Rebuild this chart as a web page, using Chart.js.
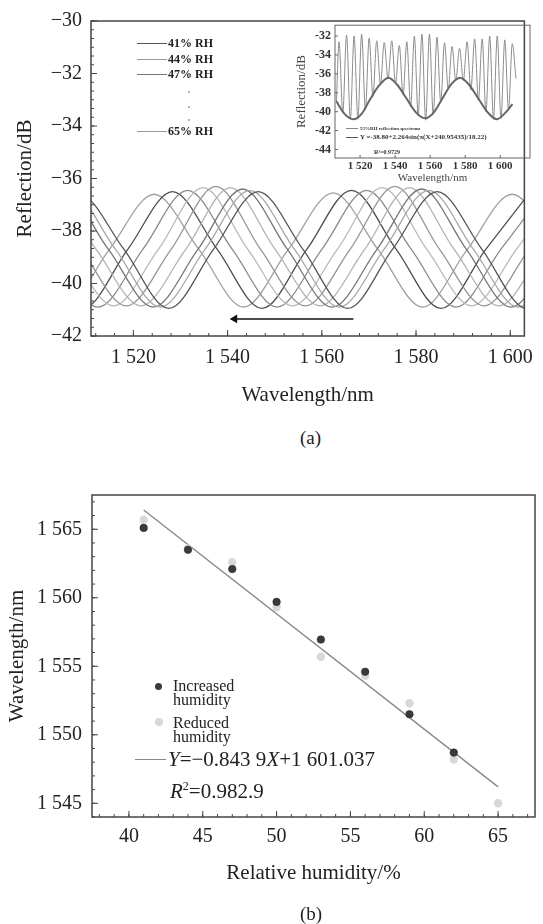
<!DOCTYPE html>
<html>
<head>
<meta charset="utf-8">
<script src="https://cdn.jsdelivr.net/npm/chart.js@4.4.1/dist/chart.umd.min.js"></script>
<style>
  body { margin: 0; width: 543px; height: 924px; position: relative; background: #fff; overflow: hidden;
         font-family: "Liberation Serif", "Times New Roman", serif; color: #222; }
  canvas, .t, .ln, .dot { position: absolute; }
  .t { white-space: nowrap; line-height: 1; transform: translateY(-50%); }
  .ln { height: 0; border-top: 1.2px solid #777; }
  .dot { border-radius: 50%; }
  .leg { font-size: 12px; font-weight: bold; }
  .ins { font-weight: bold; color: #333; }
  .hb { font-size: 16px; line-height: 14px; }
  .eq { font-size: 21px; }
</style>
</head>
<body>
<canvas id="chartA" width="543" height="420" style="left:0;top:0"></canvas>
<canvas id="inset" width="250" height="172" style="left:290px;top:14px"></canvas>
<canvas id="chartB" width="543" height="454" style="left:0;top:470px"></canvas>

<!-- legend of (a) -->
<div class="ln" style="left:137px;top:43px;width:30px;border-color:#555"></div>
<div class="t leg" style="left:168px;top:43px">41% RH</div>
<div class="ln" style="left:137px;top:59px;width:30px;border-color:#9a9a9a"></div>
<div class="t leg" style="left:168px;top:59px">44% RH</div>
<div class="ln" style="left:137px;top:74px;width:30px;border-color:#777"></div>
<div class="t leg" style="left:168px;top:74px">47% RH</div>
<div class="dot" style="left:188px;top:91px;width:2px;height:2px;background:#999"></div>
<div class="dot" style="left:188px;top:106px;width:2px;height:2px;background:#999"></div>
<div class="dot" style="left:188px;top:119px;width:2px;height:2px;background:#999"></div>
<div class="ln" style="left:137px;top:131px;width:30px;border-color:#999"></div>
<div class="t leg" style="left:168px;top:131px">65% RH</div>

<!-- legend of inset -->
<div class="ln" style="left:346px;top:128px;width:12px;border-color:#888"></div>
<div class="t ins" style="left:360px;top:128px;font-size:5px">55%RH reflection spectrum</div>
<div class="ln" style="left:346px;top:137px;width:12px;border-color:#555"></div>
<div class="t ins" style="left:360px;top:137px;font-size:7px">Y =-38.80+2.264sin(π(X+240.95435)/18.22)</div>
<div class="t ins" style="left:374px;top:152px;font-size:6px">R²=0.9729</div>

<div class="t" style="left:300px;top:437px;font-size:19px">(a)</div>

<!-- legend of (b) -->
<div class="dot" style="left:155px;top:683px;width:7px;height:7px;background:#3a3a3a"></div>
<div class="t hb" style="left:173px;top:693px">Increased<br>humidity</div>
<div class="dot" style="left:155px;top:718px;width:8px;height:8px;background:#d8d8d8"></div>
<div class="t hb" style="left:173px;top:730px">Reduced<br>humidity</div>
<div class="ln" style="left:135px;top:759px;width:31px;border-color:#888"></div>
<div class="t eq" style="left:168px;top:759px"><i>Y</i>=−0.843 9<i>X</i>+1 601.037</div>
<div class="t eq" style="left:170px;top:791px"><i>R</i><sup style="font-size:12px">2</sup>=0.982.9</div>

<div class="t" style="left:300px;top:913px;font-size:19px">(b)</div>

<script>
// ---- (a) reflection spectra ----
const xTicksA = [1520, 1540, 1560, 1580, 1600];
const yTicksA = [-42, -40, -38, -36, -34, -32, -30];

// [wavelength nm, reflection dB] at peaks, troughs and mid points of each spectrum
const rh41 = [[1499, -38.7], [1508.5, -36.6], [1518, -38.7], [1527.5, -40.95], [1537, -38.7], [1546.5, -36.5], [1556, -38.7], [1565.5, -40.95], [1575, -38.7], [1584.5, -36.5], [1594, -38.7], [1603.5, -40.95], [1613, -38.7]];
const rh44 = [[1497.2, -38.7], [1506.7, -36.5], [1516.2, -38.7], [1525.7, -40.9], [1535.2, -38.7], [1544.7, -36.45], [1554.2, -38.7], [1563.7, -40.9], [1573.2, -38.7], [1582.7, -36.45], [1592.2, -38.7], [1601.7, -40.9], [1611.2, -38.7]];
const rh47 = [[1495.7, -38.7], [1505.2, -36.5], [1514.7, -38.7], [1524.2, -40.9], [1533.7, -38.7], [1543.2, -36.4], [1552.7, -38.7], [1562.2, -40.9], [1571.7, -38.7], [1581.2, -36.4], [1590.7, -38.7], [1600.2, -40.9], [1609.7, -38.7]];
const rh50 = [[1493.1, -38.7], [1502.6, -36.4], [1512.1, -38.7], [1521.6, -40.85], [1531.1, -38.7], [1540.6, -36.35], [1550.1, -38.7], [1559.6, -40.85], [1569.1, -38.7], [1578.6, -36.35], [1588.1, -38.7], [1597.6, -40.85], [1607.1, -38.7]];
const rh53 = [[1490, -38.7], [1499.5, -36.3], [1509, -38.7], [1518.5, -40.85], [1528, -38.7], [1537.5, -36.3], [1547, -38.7], [1556.5, -40.85], [1566, -38.7], [1575.5, -36.3], [1585, -38.7], [1594.5, -40.85], [1604, -38.7]];
const rh56 = [[1496.8, -36.35], [1506.3, -38.7], [1515.8, -40.85], [1525.3, -38.7], [1534.8, -36.35], [1544.3, -38.7], [1553.8, -40.85], [1563.3, -38.7], [1572.8, -36.35], [1582.3, -38.7], [1591.8, -40.85], [1601.3, -38.7], [1610.8, -36.35]];
const rh59 = [[1493.5, -36.45], [1503, -38.7], [1512.5, -40.9], [1522, -38.7], [1531.5, -36.45], [1541, -38.7], [1550.5, -40.9], [1560, -38.7], [1569.5, -36.45], [1579, -38.7], [1588.5, -40.9], [1598, -38.7], [1607.5, -36.45]];
const rh62 = [[1499.8, -38.7], [1509.3, -40.95], [1518.8, -38.7], [1528.3, -36.5], [1537.8, -38.7], [1547.3, -40.95], [1556.8, -38.7], [1566.3, -36.45], [1575.8, -38.7], [1585.3, -40.95], [1594.8, -38.7], [1604.3, -36.5]];
const rh65 = [[1495.9, -38.7], [1505.4, -40.9], [1514.9, -38.7], [1524.4, -36.6], [1533.9, -38.7], [1543.4, -40.9], [1552.9, -38.7], [1562.4, -36.55], [1571.9, -38.7], [1581.4, -40.9], [1590.9, -38.7], [1600.4, -36.6], [1609.9, -38.7]];
const spectra = [rh41, rh44, rh47, rh50, rh53, rh56, rh59, rh62, rh65];
const spectraColors = ['#555', '#a8a8a8', '#777', '#b2b2b2', '#959595', '#b8b8b8', '#8a8a8a', '#4e4e4e', '#a0a0a0'];

// shift arrow
const arrowX = [1541.5, 1566.7];
const arrowY = -41.35;

// ---- inset: one spectrum and its fitted envelope ----
const insetXTicks = [1520, 1540, 1560, 1580, 1600];
const insetYTicks = [-44, -42, -40, -38, -36, -34, -32];
const fringeX = [1506.5, 1508.0, 1510.15, 1512.3, 1514.45, 1516.6, 1518.75, 1520.9, 1523.05, 1525.2, 1527.35, 1529.5, 1531.65, 1533.8, 1535.95, 1538.1, 1540.25, 1542.4, 1544.55, 1546.7, 1548.85, 1551.0, 1553.15, 1555.3, 1557.45, 1559.6, 1561.75, 1563.9, 1566.05, 1568.2, 1570.35, 1572.5, 1574.65, 1576.8, 1578.95, 1581.1, 1583.25, 1585.4, 1587.55, 1589.7, 1591.85, 1594.0, 1596.15, 1598.3, 1600.45, 1602.6, 1604.75, 1606.9, 1609.0];
const fringeY = [-39.0, -32.6, -40.1, -31.9, -40.8, -32.0, -40.8, -31.8, -39.8, -32.2, -38.4, -32.5, -37.1, -32.7, -36.5, -32.5, -37.0, -33.0, -38.2, -32.6, -39.5, -32.0, -40.4, -31.8, -40.9, -31.8, -40.3, -32.1, -39.0, -32.7, -37.6, -33.1, -36.7, -33.3, -36.7, -32.6, -37.7, -32.3, -38.8, -32.3, -40.0, -32.0, -40.8, -32.0, -40.7, -32.4, -39.8, -32.8, -36.5];
const envX = [1506.5, 1511, 1516.2, 1521, 1526, 1531, 1536.2, 1541, 1546.5, 1552, 1557.1, 1562, 1567, 1572, 1577.1, 1582, 1587.5, 1593, 1598.1, 1603, 1607];
const envY = [-38.9, -40.2, -40.8, -40.2, -38.6, -37.2, -36.4, -37.1, -38.6, -40.1, -40.7, -40.1, -38.6, -37.1, -36.4, -37.1, -38.6, -40.1, -40.8, -40.1, -39.2];

// ---- (b) dip wavelength vs humidity ----
const xTicksB = [40, 45, 50, 55, 60, 65];
const yTicksB = [1545, 1550, 1555, 1560, 1565];
const rhLevels = [41, 44, 47, 50, 53, 56, 59, 62, 65];
const increasedNm = [1565.1, 1563.5, 1562.1, 1559.7, 1556.95, 1554.6, 1551.5, 1548.7, null];
const reducedNm = [1565.7, 1563.6, 1562.6, 1559.3, 1555.7, 1554.3, 1552.3, 1548.2, 1545.0];
const fitRh = [41, 65];
const fitNm = [1566.4, 1546.2];

const serif = '"Liberation Serif", "Times New Roman", serif';
Chart.defaults.font.family = serif;
Chart.defaults.color = '#222';

const fmtNm = v => { const s = String(v); return s.length === 4 ? s[0] + ' ' + s.slice(1) : s; };
const noGrid = { display: false, drawTicks: false };

// frame around the plot, ticks pointing inward
const boxTicks = {
  id: 'boxTicks',
  afterDatasetsDraw(chart, args, o) {
    const { ctx, chartArea: a } = chart;
    const sx = chart.scales.x, sy = chart.scales.y;
    ctx.save();
    ctx.strokeStyle = o.color;
    ctx.lineWidth = 1;
    ctx.beginPath();
    sx.ticks.forEach(t => {
      const p = sx.getPixelForValue(t.value);
      ctx.moveTo(p, a.bottom); ctx.lineTo(p, a.bottom - o.major);
    });
    sy.ticks.forEach(t => {
      const p = sy.getPixelForValue(t.value);
      ctx.moveTo(a.left, p); ctx.lineTo(a.left + o.major, p);
    });
    if (o.xMinor) {
      for (let i = Math.ceil(sx.min / o.xMinor); i * o.xMinor <= sx.max; i++) {
        const p = sx.getPixelForValue(i * o.xMinor);
        ctx.moveTo(p, a.bottom); ctx.lineTo(p, a.bottom - o.minor);
      }
    }
    if (o.yMinor) {
      for (let i = Math.ceil(sy.min / o.yMinor - 1e-6); i * o.yMinor <= sy.max + 1e-6; i++) {
        const p = sy.getPixelForValue(i * o.yMinor);
        ctx.moveTo(a.left, p); ctx.lineTo(a.left + o.minor, p);
      }
    }
    ctx.stroke();
    ctx.lineWidth = o.frame;
    ctx.strokeRect(a.left, a.top, a.width, a.height);
    ctx.restore();
  }
};

// ---- chart (a) ----
new Chart(document.getElementById('chartA'), {
  type: 'line',
  data: {
    datasets: [
      {
        data: arrowX.map(x => ({ x, y: arrowY })),
        borderColor: '#111', borderWidth: 1.6,
        pointStyle: 'triangle', pointRadius: [5, 0], pointRotation: -90,
        pointBackgroundColor: '#111', pointBorderWidth: 0
      },
      ...spectra.map((pts, i) => ({
        data: pts,
        borderColor: spectraColors[i], borderWidth: 1.3,
        pointRadius: 0, cubicInterpolationMode: 'monotone'
      }))
    ]
  },
  options: {
    responsive: false, animation: false, devicePixelRatio: 1,
    layout: { padding: { left: 0, right: 8, top: 14, bottom: 0 } },
    plugins: {
      legend: { display: false }, tooltip: { enabled: false },
      boxTicks: { color: '#444', frame: 1.5, major: 6, minor: 3, xMinor: 4, yMinor: 2 / 6 }
    },
    scales: {
      x: {
        type: 'linear', min: 1511, max: 1603,
        grid: noGrid, border: { display: false },
        afterBuildTicks: s => { s.ticks = xTicksA.map(v => ({ value: v })); },
        afterFit: s => { s.height = 84; },
        ticks: { font: { size: 20 }, color: '#222', padding: 10, autoSkip: false, maxRotation: 0, callback: fmtNm },
        title: { display: true, text: 'Wavelength/nm', font: { size: 21 }, color: '#222', padding: { top: 0, bottom: 12 } }
      },
      y: {
        type: 'linear', min: -42, max: -30,
        grid: noGrid, border: { display: false },
        afterBuildTicks: s => { s.ticks = yTicksA.map(v => ({ value: v })); },
        afterFit: s => { s.width = 91; },
        ticks: { font: { size: 20 }, color: '#222', padding: 9, callback: v => '\u2212' + Math.abs(v) },
        title: { display: true, text: 'Reflection/dB', font: { size: 21 }, color: '#222', padding: { top: 13, bottom: 0 } }
      }
    }
  },
  plugins: [boxTicks]
});

// ---- inset ----
new Chart(document.getElementById('inset'), {
  type: 'line',
  data: {
    datasets: [
      {
        data: envX.map((x, i) => ({ x, y: envY[i] })),
        borderColor: '#666', borderWidth: 2, pointRadius: 0, cubicInterpolationMode: 'monotone'
      },
      {
        data: fringeX.map((x, i) => ({ x, y: fringeY[i] })),
        borderColor: '#8c8c8c', borderWidth: 1, pointRadius: 0, cubicInterpolationMode: 'monotone'
      }
    ]
  },
  options: {
    responsive: false, animation: false, devicePixelRatio: 1,
    layout: { padding: { left: 0, right: 10, top: 10, bottom: 0 } },
    plugins: {
      legend: { display: false }, tooltip: { enabled: false },
      boxTicks: { color: '#666', frame: 1, major: 3, minor: 0 }
    },
    scales: {
      x: {
        type: 'linear', min: 1505.7, max: 1617,
        grid: noGrid, border: { display: false },
        afterBuildTicks: s => { s.ticks = insetXTicks.map(v => ({ value: v })); },
        afterFit: s => { s.height = 28; },
        ticks: { font: { size: 11, weight: 'bold' }, color: '#333', padding: 2, autoSkip: false, maxRotation: 0, callback: fmtNm },
        title: { display: true, text: 'Wavelength/nm', font: { size: 11 }, color: '#444', padding: { top: 0, bottom: 1 } }
      },
      y: {
        type: 'linear', min: -44.9, max: -30.85,
        grid: noGrid, border: { display: false },
        afterBuildTicks: s => { s.ticks = insetYTicks.map(v => ({ value: v })); },
        afterFit: s => { s.width = 45; },
        ticks: { font: { size: 12, weight: 'bold' }, color: '#333', padding: 4 },
        title: { display: true, text: 'Reflection/dB', font: { size: 13 }, color: '#444', padding: { top: 4, bottom: 0 } }
      }
    }
  },
  plugins: [boxTicks]
});

// ---- chart (b) ----
new Chart(document.getElementById('chartB'), {
  type: 'scatter',
  data: {
    datasets: [
      {
        data: rhLevels.map((x, i) => ({ x, y: increasedNm[i] })),
        pointRadius: 3.8, pointBackgroundColor: '#3a3a3a', pointBorderColor: '#222', pointBorderWidth: 0.5
      },
      {
        data: rhLevels.map((x, i) => ({ x, y: reducedNm[i] })),
        pointRadius: 4.2, pointBackgroundColor: '#d8d8d8', pointBorderWidth: 0
      },
      {
        type: 'line',
        data: fitRh.map((x, i) => ({ x, y: fitNm[i] })),
        borderColor: '#888', borderWidth: 1.4, pointRadius: 0
      }
    ]
  },
  options: {
    responsive: false, animation: false, devicePixelRatio: 1,
    layout: { padding: { left: 0, right: 8, top: 25, bottom: 0 } },
    plugins: {
      legend: { display: false }, tooltip: { enabled: false },
      boxTicks: { color: '#444', frame: 1.5, major: 6, minor: 3, xMinor: 1, yMinor: 1 }
    },
    scales: {
      x: {
        type: 'linear', min: 37.5, max: 67.5,
        grid: noGrid, border: { display: false },
        afterBuildTicks: s => { s.ticks = xTicksB.map(v => ({ value: v })); },
        afterFit: s => { s.height = 107; },
        ticks: { font: { size: 20 }, color: '#222', padding: 8, autoSkip: false, maxRotation: 0 },
        title: { display: true, text: 'Relative humidity/%', font: { size: 21 }, color: '#222', padding: { top: 0, bottom: 38 } }
      },
      y: {
        type: 'linear', min: 1544, max: 1567.5,
        grid: noGrid, border: { display: false },
        afterBuildTicks: s => { s.ticks = yTicksB.map(v => ({ value: v })); },
        afterFit: s => { s.width = 92; },
        ticks: { font: { size: 20 }, color: '#222', padding: 10, callback: fmtNm },
        title: { display: true, text: 'Wavelength/nm', font: { size: 21 }, color: '#222', padding: { top: 5, bottom: 0 } }
      }
    }
  },
  plugins: [boxTicks]
});
</script>
</body>
</html>
